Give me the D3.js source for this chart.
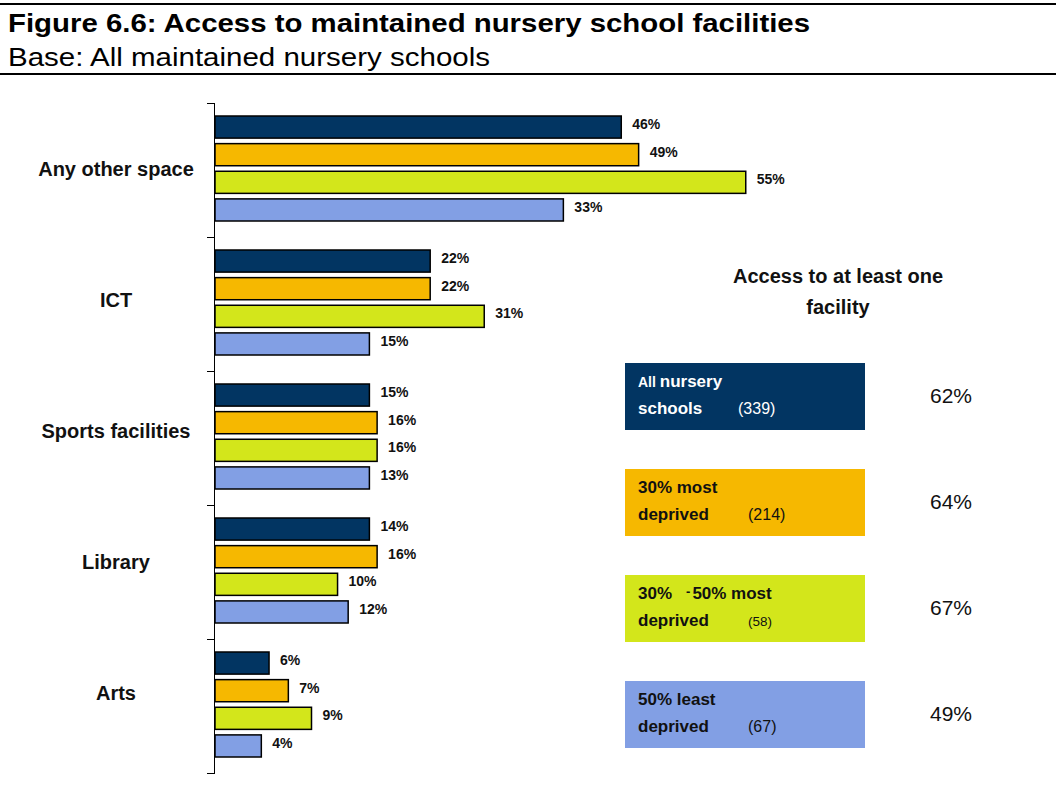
<!DOCTYPE html>
<html lang="en">
<head>
<meta charset="utf-8">
<title>Figure 6.6: Access to maintained nursery school facilities</title>
<script src="https://d3js.org/d3.v7.min.js"></script>
<style>
  body { margin: 0; background: #fff; font-family: "Liberation Sans", Arial, sans-serif; }
  svg text { font-family: "Liberation Sans", Arial, sans-serif; }
  .axis path, .axis line { fill: none; stroke: #000; stroke-width: 1.5; shape-rendering: crispEdges; }
</style>
</head>
<body>
<div id="chart"></div>
<script>
// categories, top to bottom
var categories = ["Any other space", "ICT", "Sports facilities", "Library", "Arts"];
var seriesNames = ["All nursery schools", "30% most deprived", "30%-50% most deprived", "50% least deprived"];
var seriesColors = ["#023562", "#f6b800", "#d3e61b", "#829fe4"];

// bar lengths as drawn in the figure (percent), one array per series
var allSchools   = [42.1, 22.3, 16.0, 16.0, 5.6];
var mostDeprived = [43.9, 22.3, 16.8, 16.8, 7.6];
var midDeprived  = [55.0, 27.9, 16.8, 12.7, 10.0];
var leastDepriv  = [36.1, 16.0, 16.0, 13.8, 4.8];

// printed data labels
var allLabels   = ["46%", "22%", "15%", "14%", "6%"];
var mostLabels  = ["49%", "22%", "16%", "16%", "7%"];
var midLabels   = ["55%", "31%", "16%", "10%", "9%"];
var leastLabels = ["33%", "15%", "13%", "12%", "4%"];

// legend panel: "access to at least one facility"
var legendLine1 = [[{t: "All ", s: 14}, {t: "nursery", s: 17}], [{t: "30% most", s: 17}],
                   [{t: "30%", s: 17}, {t: "-", s: 13}, {t: "50% most", s: 17}], [{t: "50% least", s: 17}]];
var legendLine2 = ["schools", "deprived", "deprived", "deprived"];
var legendBases = ["(339)", "(214)", "(58)", "(67)"];
var atLeastOne  = ["62%", "64%", "67%", "49%"];

var W = 1056, H = 796;
var svg = d3.select("#chart").append("svg").attr("width", W).attr("height", H);

// header
svg.append("line").attr("x1", 0).attr("x2", W).attr("y1", 4).attr("y2", 4)
  .attr("stroke", "#000").attr("stroke-width", 2);
svg.append("line").attr("x1", 0).attr("x2", W).attr("y1", 74).attr("y2", 74)
  .attr("stroke", "#000").attr("stroke-width", 2);
svg.append("text").attr("x", 8).attr("y", 32)
  .attr("textLength", 802).attr("lengthAdjust", "spacingAndGlyphs")
  .style("font-size", "26px").style("font-weight", "bold")
  .text("Figure 6.6: Access to maintained nursery school facilities");
svg.append("text").attr("x", 8).attr("y", 66)
  .attr("textLength", 482).attr("lengthAdjust", "spacingAndGlyphs")
  .style("font-size", "25px")
  .text("Base: All maintained nursery schools");

// scales
var plotTop = 103, plotBottom = 773, plotLeft = 215;
var y0 = d3.scaleBand().domain(categories).range([plotTop, plotBottom]);
var y1 = d3.scaleBand().domain(d3.range(4)).range([13, 118]).paddingInner(0.2);
var x = d3.scaleLinear().domain([0, 60]).range([plotLeft, plotLeft + 579]);
// category names sit a little above each group's middle, drifting upwards lower down
var yLab = d3.scalePoint().domain(categories).range([169, 693]);

var rows = categories.map(function(c, i) {
  return {
    cat: c,
    vals: [allSchools[i], mostDeprived[i], midDeprived[i], leastDepriv[i]],
    labs: [allLabels[i], mostLabels[i], midLabels[i], leastLabels[i]]
  };
});

var groups = svg.selectAll(".grp").data(rows).enter().append("g")
  .attr("class", "grp")
  .attr("transform", function(d) { return "translate(0," + y0(d.cat) + ")"; });

groups.selectAll("rect").data(function(d) { return d.vals; }).enter().append("rect")
  .attr("x", x(0))
  .attr("y", function(d, i) { return y1(i); })
  .attr("width", function(d) { return x(d) - x(0); })
  .attr("height", y1.bandwidth())
  .attr("fill", function(d, i) { return seriesColors[i]; })
  .attr("stroke", "#000").attr("stroke-width", 1.5);

groups.each(function(d) {
  d3.select(this).selectAll(".lab").data(d.labs).enter().append("text")
    .attr("class", "lab")
    .attr("x", function(t, i) { return x(d.vals[i]) + 11; })
    .attr("y", function(t, i) { return y1(i) + y1.bandwidth() / 2 - 3; })
    .attr("dominant-baseline", "central")
    .style("font-size", "14px").style("font-weight", "bold").style("fill", "#111")
    .text(function(t) { return t; });
});

// category labels
svg.selectAll(".cat").data(categories).enter().append("text")
  .attr("class", "cat")
  .attr("x", 116)
  .attr("y", function(c) { return yLab(c); })
  .attr("text-anchor", "middle").attr("dominant-baseline", "central")
  .style("font-size", "20px").style("font-weight", "bold").style("fill", "#111")
  .text(function(c) { return c; });

// axis with ticks at group boundaries
var yb = d3.scaleLinear().domain([0, categories.length]).range([plotTop, plotBottom]);
svg.append("g").attr("class", "axis")
  .attr("transform", "translate(214,0)")
  .call(d3.axisLeft(yb).tickValues(d3.range(categories.length + 1)).tickSize(7).tickFormat(""));

// right-hand panel
var panel = svg.append("g");
panel.append("text").attr("x", 838).attr("y", 283).attr("text-anchor", "middle")
  .style("font-size", "20px").style("font-weight", "bold").style("fill", "#111")
  .text("Access to at least one");
panel.append("text").attr("x", 838).attr("y", 314).attr("text-anchor", "middle")
  .style("font-size", "20px").style("font-weight", "bold").style("fill", "#111")
  .text("facility");

var boxTop = d3.scalePoint().domain(d3.range(4)).range([363, 681]);
var boxes = panel.selectAll(".box").data(seriesNames).enter().append("g")
  .attr("class", "box")
  .attr("transform", function(d, i) { return "translate(625," + boxTop(i) + ")"; });

boxes.append("rect").attr("width", 240).attr("height", 67)
  .attr("fill", function(d, i) { return seriesColors[i]; });

boxes.each(function(d, i) {
  var g = d3.select(this);
  var col = i === 0 ? "#fff" : "#111";
  var t1 = g.append("text").attr("x", 13).attr("y", 24)
    .style("font-weight", "bold").style("fill", col);
  legendLine1[i].forEach(function(p, k) {
    // spacing as printed: "30%   -50% most"
    var dx = (i === 2 && k === 1) ? 14 : (i === 2 && k === 2 ? 2 : 0);
    t1.append("tspan").attr("dx", dx).attr("dy", (i === 2 && k === 1) ? -3 : (i === 2 && k === 2 ? 3 : 0))
      .style("font-size", p.s + "px").text(p.t);
  });
  g.append("text").attr("x", 13).attr("y", 51)
    .style("font-size", "17px").style("font-weight", "bold").style("fill", col)
    .text(legendLine2[i]);
  g.append("text").attr("x", i === 0 ? 113 : 123).attr("y", 51)
    .style("font-size", i === 2 ? "13.5px" : "16px").style("fill", col)
    .text(legendBases[i]);
  g.append("text").attr("x", 347).attr("y", 40).attr("text-anchor", "end")
    .style("font-size", "21px").style("fill", "#111")
    .text(atLeastOne[i]);
});
</script>
</body>
</html>
